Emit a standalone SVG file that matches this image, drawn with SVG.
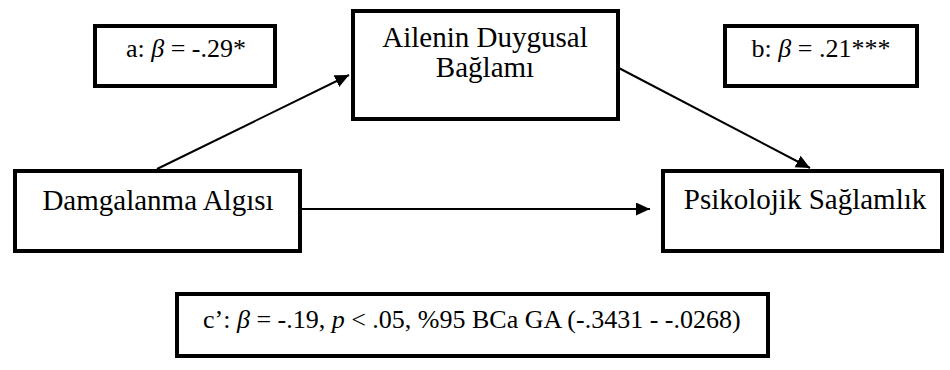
<svg xmlns="http://www.w3.org/2000/svg" width="950" height="370" viewBox="0 0 950 370">
<style>
  .box { fill: #fff; stroke: #000; stroke-width: 4; }
  text { font-family: 'Liberation Serif', 'DejaVu Serif', serif; fill: #000; }
  .big { font-size: 29px; }
  .sm { font-size: 26px; }
  .conn { stroke: #000; stroke-width: 2; fill: none; }
</style>
<defs>
  <marker id="arr" markerUnits="userSpaceOnUse" markerWidth="16" markerHeight="14" refX="14" refY="6.5" orient="auto">
    <path d="M0,0 L14,6.5 L0,13 Z" fill="#000"/>
  </marker>
</defs>
<g id="connectors">
  <line class="conn" x1="157" y1="169" x2="349" y2="75" marker-end="url(#arr)"/>
  <line class="conn" x1="615" y1="66" x2="810" y2="168" marker-end="url(#arr)"/>
  <line class="conn" x1="302" y1="209" x2="650" y2="209" marker-end="url(#arr)"/>
</g>
<g id="label-a">
  <rect class="box" x="95" y="26" width="180" height="60"/>
  <text class="sm" font-family="Liberation Serif, serif" x="186" y="57" text-anchor="middle">a: <tspan font-style="italic">β</tspan> = -.29*</text>
</g>
<g id="label-b">
  <rect class="box" x="725" y="26" width="192" height="60"/>
  <text class="sm" font-family="Liberation Serif, serif" x="821" y="57" text-anchor="middle">b: <tspan font-style="italic">β</tspan> = .21***</text>
</g>
<g id="node-ailenin">
  <rect class="box" x="353" y="11" width="265" height="108"/>
  <text class="big" font-family="Liberation Serif, serif" x="485" y="47" text-anchor="middle">Ailenin Duygusal</text>
  <text class="big" font-family="Liberation Serif, serif" x="485" y="77" text-anchor="middle">Bağlamı</text>
</g>
<g id="node-damgalanma">
  <rect class="box" x="15" y="171" width="285" height="80"/>
  <text class="big" font-family="Liberation Serif, serif" x="158" y="210" text-anchor="middle">Damgalanma Algısı</text>
</g>
<g id="node-psikolojik">
  <rect class="box" x="663" y="171" width="279" height="80"/>
  <text class="big" font-family="Liberation Serif, serif" x="805" y="209" text-anchor="middle">Psikolojik Sağlamlık</text>
</g>
<g id="label-c">
  <rect class="box" x="177" y="294" width="591" height="62"/>
  <text class="sm" font-family="Liberation Serif, serif" x="203" y="328">c’: <tspan font-style="italic">β</tspan> = -.19, <tspan font-style="italic">p</tspan> &lt; .05, %95 BCa GA (-.3431 - -.0268)</text>
</g>
</svg>
